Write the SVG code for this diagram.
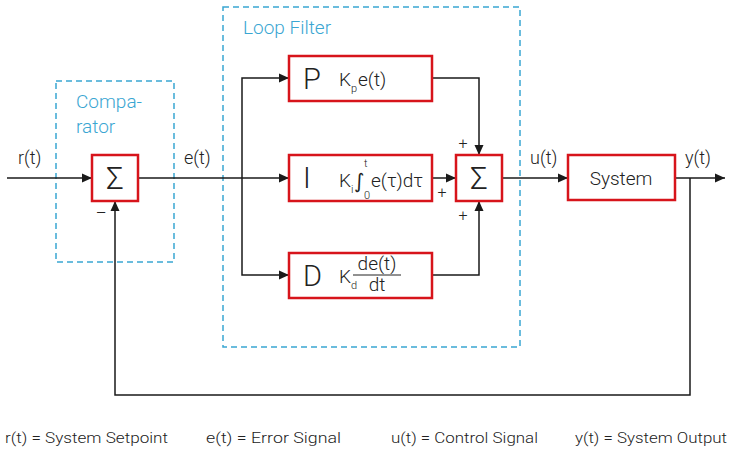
<svg xmlns="http://www.w3.org/2000/svg" width="730" height="462" viewBox="0 0 730 462">
<defs>
<marker id="arr" markerUnits="userSpaceOnUse" markerWidth="11" markerHeight="10" refX="10" refY="5" orient="auto">
<path d="M0,0.5 L10,5 L0,9.5 z" fill="#1a1a1a"/>
</marker>
<style>
.t{font-family:Roboto,"Liberation Sans",sans-serif;font-weight:300;fill:#222}
.blue{font-family:Roboto,"Liberation Sans",sans-serif;font-weight:300;fill:#3aa6d2;font-size:19px}
.grp{fill:none;stroke:#3aa6d2;stroke-width:1.5;stroke-dasharray:6,4}
.blk{fill:#fff;stroke:#d7141b;stroke-width:2.5}
.c{fill:none;stroke:#1a1a1a;stroke-width:1.5}
.ca{fill:none;stroke:#1a1a1a;stroke-width:1.5;marker-end:url(#arr)}
.sig{font-size:31px}
.big{font-size:29px}
.lab{font-size:18px}
.k{font-size:19px}
.sub{font-size:11px}
.pm{font-size:16px}
.leg{font-size:15px}
</style>
</defs>
<rect width="730" height="462" fill="#fff"/>

<g id="comparator-group">
<rect class="grp" x="56" y="81" width="118" height="181"/>
<text class="blue" x="76" y="108">Compa-</text>
<text class="blue" x="76" y="133">rator</text>
</g>
<g id="loop-filter-group">
<rect class="grp" x="223" y="7" width="297" height="340"/>
<text class="blue" x="243" y="34">Loop Filter</text>
</g>

<g id="connectors">
<path class="ca" d="M7,178 H92"/>
<path class="ca" d="M138,178 H289"/>
<path class="ca" d="M242,178 V78 H289"/>
<path class="ca" d="M242,178 V275 H289"/>
<path class="ca" d="M432,78 H479 V155"/>
<path class="ca" d="M432,178 H456"/>
<path class="ca" d="M432,275 H479 V201"/>
<path class="ca" d="M502,178 H568"/>
<path class="ca" d="M675,178 H725"/>
<path class="ca" d="M690,178 V395 H115 V201"/>
</g>

<g id="labels">
<text class="t lab" x="18" y="164">r(t)</text>
<text class="t lab" x="184" y="164">e(t)</text>
<text class="t lab" x="530" y="164">u(t)</text>
<text class="t lab" x="685" y="164">y(t)</text>
<text class="t" x="101" y="220" font-size="20" text-anchor="middle">−</text>
<text class="t pm" x="463" y="149" text-anchor="middle">+</text>
<text class="t pm" x="442" y="198" text-anchor="middle">+</text>
<text class="t pm" x="463" y="221" text-anchor="middle">+</text>
</g>

<g id="sum1">
<rect class="blk" x="92" y="155" width="46" height="46"/>
<text class="t sig" x="115" y="189" text-anchor="middle">Σ</text>
</g>

<g id="p-block">
<rect class="blk" x="289" y="56" width="143" height="45"/>
<text class="t big" x="303" y="89">P</text>
<text class="t k" x="339" y="86">K</text>
<text class="t sub" x="351" y="92">p</text>
<text class="t k" x="358" y="86">e(t)</text>
</g>

<g id="i-block">
<rect class="blk" x="289" y="155" width="143" height="46"/>
<text class="t big" x="303" y="188">I</text>
<text class="t k" x="339" y="187">K</text>
<text class="t sub" x="351" y="193">i</text>
<text x="354" y="188" font-family="'DejaVu Sans',sans-serif" font-size="20" fill="#222">∫</text>
<text class="t sub" x="364" y="167">t</text>
<text class="t sub" x="364" y="199">0</text>
<text class="t k" x="371" y="187">e(τ)dτ</text>
</g>

<g id="d-block">
<rect class="blk" x="289" y="253" width="143" height="45"/>
<text class="t big" x="303" y="286">D</text>
<text class="t k" x="339" y="283">K</text>
<text class="t sub" x="351" y="289">d</text>
<text class="t k" x="377" y="270" text-anchor="middle">de(t)</text>
<line x1="353" y1="275" x2="401" y2="275" stroke="#222" stroke-width="1"/>
<text class="t k" x="377" y="291" text-anchor="middle">dt</text>
</g>

<g id="sum2">
<rect class="blk" x="456" y="155" width="46" height="46"/>
<text class="t sig" x="479" y="189" text-anchor="middle">Σ</text>
</g>

<g id="system">
<rect class="blk" x="568" y="155" width="107" height="45"/>
<text class="t" x="621" y="185" font-size="19" text-anchor="middle">System</text>
</g>

<g id="legend">
<text class="t leg" x="5" y="443" textLength="163" lengthAdjust="spacingAndGlyphs">r(t) = System Setpoint</text>
<text class="t leg" x="206" y="443" textLength="135" lengthAdjust="spacingAndGlyphs">e(t) = Error Signal</text>
<text class="t leg" x="391" y="443" textLength="147" lengthAdjust="spacingAndGlyphs">u(t) = Control Signal</text>
<text class="t leg" x="575" y="443" textLength="152" lengthAdjust="spacingAndGlyphs">y(t) = System Output</text>
</g>
</svg>
